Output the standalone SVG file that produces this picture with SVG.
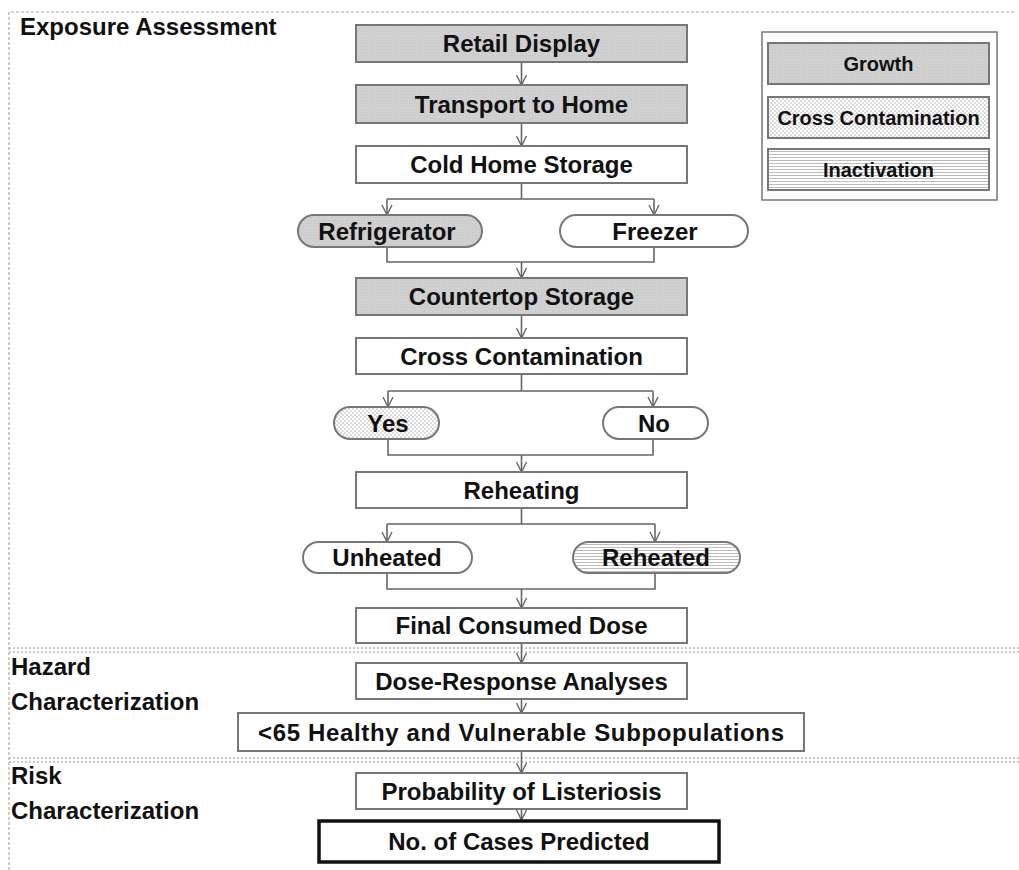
<svg xmlns="http://www.w3.org/2000/svg" width="1019" height="870" viewBox="0 0 1019 870">
<style>
text{font-family:"Liberation Sans",Arial,sans-serif;font-weight:bold;fill:#111;}
.t{font-size:24px;text-anchor:middle;}
.lg{font-size:20px;text-anchor:middle;}
.sec{font-size:24px;}
.box{stroke:#777;stroke-width:2;fill:#fff;}
.grow{stroke:#777;stroke-width:2;fill:url(#pGrow);}
.dots{stroke:#777;stroke-width:2;fill:url(#pDots);}
.lines{stroke:#777;stroke-width:2;fill:url(#pLines);}
.con{stroke:#666;stroke-width:1.6;fill:none;}
.arr{stroke:#666;stroke-width:1.6;fill:none;marker-end:url(#ah);}
.frame{stroke:#aaa;stroke-width:1.2;stroke-dasharray:3 2;fill:none;}
.div{stroke:#bbb;stroke-width:1.5;stroke-dasharray:2 2;fill:none;}
</style>
<defs>
<marker id="ah" viewBox="0 0 12 12" refX="11" refY="6" markerWidth="12" markerHeight="12" markerUnits="userSpaceOnUse" orient="auto">
<path d="M1,1 L11,6 L1,11" fill="none" stroke="#666" stroke-width="1.4"/>
</marker>
<pattern id="pGrow" width="3" height="3" patternUnits="userSpaceOnUse">
<rect width="3" height="3" fill="#d0d0d0"/>
<rect x="1" y="1" width="1" height="1" fill="#c6c6c6"/>
</pattern>
<pattern id="pDots" width="4" height="4" patternUnits="userSpaceOnUse">
<rect width="4" height="4" fill="#fff"/>
<circle cx="1" cy="1" r="0.8" fill="#b0b0b0"/>
<circle cx="3" cy="3" r="0.8" fill="#b0b0b0"/>
</pattern>
<pattern id="pLines" width="4" height="3" patternUnits="userSpaceOnUse">
<rect width="4" height="3" fill="#fff"/>
<rect y="1" width="4" height="1" fill="#bdbdbd"/>
</pattern>
</defs>

<g id="frame">
<path class="frame" d="M9,870 V12 H1015"/>
<path class="div" d="M9,648 H1019 M9,652 H1019"/>
<path class="div" d="M9,758 H1019 M9,762 H1019"/>
<text class="sec" x="20" y="35">Exposure Assessment</text>
<text class="sec" x="11" y="675">Hazard</text>
<text class="sec" x="11" y="710">Characterization</text>
<text class="sec" x="11" y="784">Risk</text>
<text class="sec" x="11" y="819">Characterization</text>
</g>

<g id="legend">
<rect x="762" y="32" width="235" height="168" fill="#fff" stroke="#777" stroke-width="1.5"/>
<rect class="grow" x="768" y="43" width="221" height="41"/>
<text class="lg" x="878.5" y="70.5">Growth</text>
<rect class="dots" x="768" y="97" width="221" height="41"/>
<text class="lg" x="878.5" y="124.5">Cross Contamination</text>
<rect class="lines" x="768" y="149" width="221" height="41"/>
<text class="lg" x="878.5" y="176.5">Inactivation</text>
</g>

<g id="connectors">
<path class="arr" d="M521.5,62 V85"/>
<path class="arr" d="M521.5,123 V146"/>
<path class="con" d="M521.5,183 V199 M387,199 H654"/>
<path class="arr" d="M387,199 V215"/>
<path class="arr" d="M654,199 V215"/>
<path class="con" d="M387,247 V262 H654 V247"/>
<path class="arr" d="M521.5,262 V278"/>
<path class="arr" d="M521.5,315 V338"/>
<path class="con" d="M521.5,374 V391 M388,391 H653"/>
<path class="arr" d="M388,391 V407"/>
<path class="arr" d="M653,391 V407"/>
<path class="con" d="M388,439 V455 H653 V439"/>
<path class="arr" d="M521.5,455 V472"/>
<path class="con" d="M521.5,508 V524 M387,524 H655"/>
<path class="arr" d="M387,524 V542"/>
<path class="arr" d="M655,524 V542"/>
<path class="con" d="M387,573 V589 H655 V573"/>
<path class="arr" d="M521.5,589 V608"/>
<path class="arr" d="M521.5,643 V663"/>
<path class="arr" d="M521.5,699 V713"/>
<path class="arr" d="M521.5,751 V773"/>
<path class="arr" d="M521.5,809 V820"/>
</g>

<g id="retail"><rect class="grow" x="356" y="25" width="331" height="37"/><text class="t" x="521.5" y="52">Retail Display</text></g>
<g id="transport"><rect class="grow" x="356" y="85" width="331" height="38"/><text class="t" x="521.5" y="112.5">Transport to Home</text></g>
<g id="coldstorage"><rect class="box" x="356" y="146" width="331" height="37"/><text class="t" x="521.5" y="173">Cold Home Storage</text></g>
<g id="refrigerator"><rect class="grow" x="298" y="215" width="184" height="32" rx="16"/><text class="t" x="387" y="239.5">Refrigerator</text></g>
<g id="freezer"><rect class="box" x="560" y="215" width="188" height="32" rx="16"/><text class="t" x="655" y="239.5">Freezer</text></g>
<g id="countertop"><rect class="grow" x="356" y="278" width="331" height="37"/><text class="t" x="521.5" y="305">Countertop Storage</text></g>
<g id="crosscont"><rect class="box" x="356" y="338" width="331" height="36"/><text class="t" x="521.5" y="364.5">Cross Contamination</text></g>
<g id="yes"><rect class="dots" x="334" y="407" width="105" height="32" rx="16"/><text class="t" x="388" y="431.5">Yes</text></g>
<g id="no"><rect class="box" x="603" y="407" width="105" height="32" rx="16"/><text class="t" x="654" y="431.5">No</text></g>
<g id="reheating"><rect class="box" x="356" y="472" width="331" height="36"/><text class="t" x="521.5" y="498.5">Reheating</text></g>
<g id="unheated"><rect class="box" x="303" y="542" width="169" height="31" rx="15.5"/><text class="t" x="387" y="566">Unheated</text></g>
<g id="reheated"><rect class="lines" x="573" y="542" width="167" height="31" rx="15.5"/><text class="t" x="656" y="566">Reheated</text></g>
<g id="finaldose"><rect class="box" x="356" y="608" width="331" height="35"/><text class="t" x="521.5" y="634">Final Consumed Dose</text></g>
<g id="doseresponse"><rect class="box" x="356" y="663" width="331" height="36"/><text class="t" x="521.5" y="689.5">Dose-Response Analyses</text></g>
<g id="subpop"><rect class="box" x="238" y="713" width="566" height="38"/><text class="t" x="521" y="740.5" textLength="526" lengthAdjust="spacing">&lt;65 Healthy and Vulnerable Subpopulations</text></g>
<g id="probability"><rect class="box" x="356" y="773" width="331" height="36"/><text class="t" x="521.5" y="799.5">Probability of Listeriosis</text></g>
<g id="cases"><rect x="319" y="821" width="400" height="41" fill="#fff" stroke="#111" stroke-width="3.5"/><text class="t" x="519" y="849.5">No. of Cases Predicted</text></g>
</svg>
